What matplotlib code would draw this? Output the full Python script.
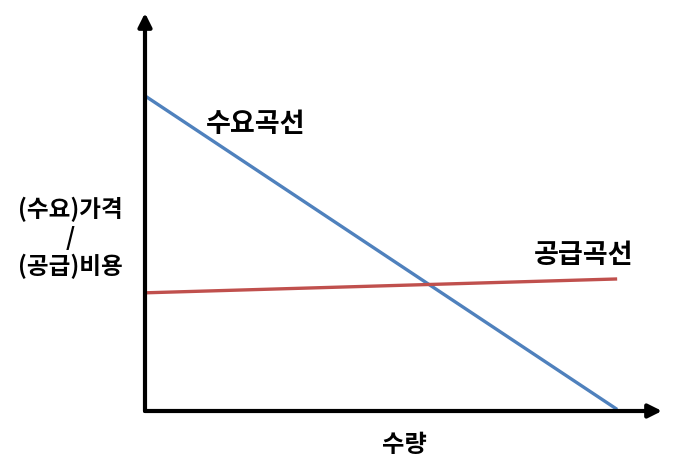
import matplotlib.pyplot as plt

plt.rcParams['font.family'] = ['Noto Sans CJK KR', 'DejaVu Sans']

# quantity axis and the two curves
quantity = [0, 10]
demand_price = [10.0, 0.05]
supply_cost = [3.75, 4.19]

demand_label = "수요곡선"
supply_label = "공급곡선"
x_label = "수량"
y_label = "(수요)가격\n/\n(공급)비용"

fig = plt.figure(figsize=(6.8, 4.71), dpi=100)
ax = fig.add_axes([145 / 680, 60 / 471, 517 / 680, 398 / 471])
ax.set_xlim(0, 10.95)
ax.set_ylim(0, 12.63)
ax.axis("off")

ax.plot(quantity, demand_price, color="#4F81BD", lw=2.4, solid_capstyle="butt")
ax.plot(quantity, supply_cost, color="#C0504D", lw=2.4, solid_capstyle="butt")

# axes with arrow heads
arrow = dict(arrowstyle="-|>,head_length=0.8,head_width=0.4", color="black", lw=3, shrinkA=0, shrinkB=0)
ax.annotate("", xy=(0, 1), xytext=(0, 0), xycoords="axes fraction", arrowprops=arrow)
ax.annotate("", xy=(1, 0), xytext=(0, 0), xycoords="axes fraction", arrowprops=arrow)

ax.text(2.35, 9.1, demand_label, fontsize=19.5, fontweight="heavy", ha="center", va="center")
ax.text(9.29, 4.95, supply_label, fontsize=19.5, fontweight="heavy", ha="center", va="center")

fig.text(70 / 680, 1 - 238 / 471, y_label, fontsize=17, fontweight="heavy",
         ha="center", va="center", linespacing=1.22)
fig.text(404 / 680, 1 - 445 / 471, x_label, fontsize=17.5, fontweight="heavy",
         ha="center", va="center")

fig.savefig("out.png", dpi=100)
